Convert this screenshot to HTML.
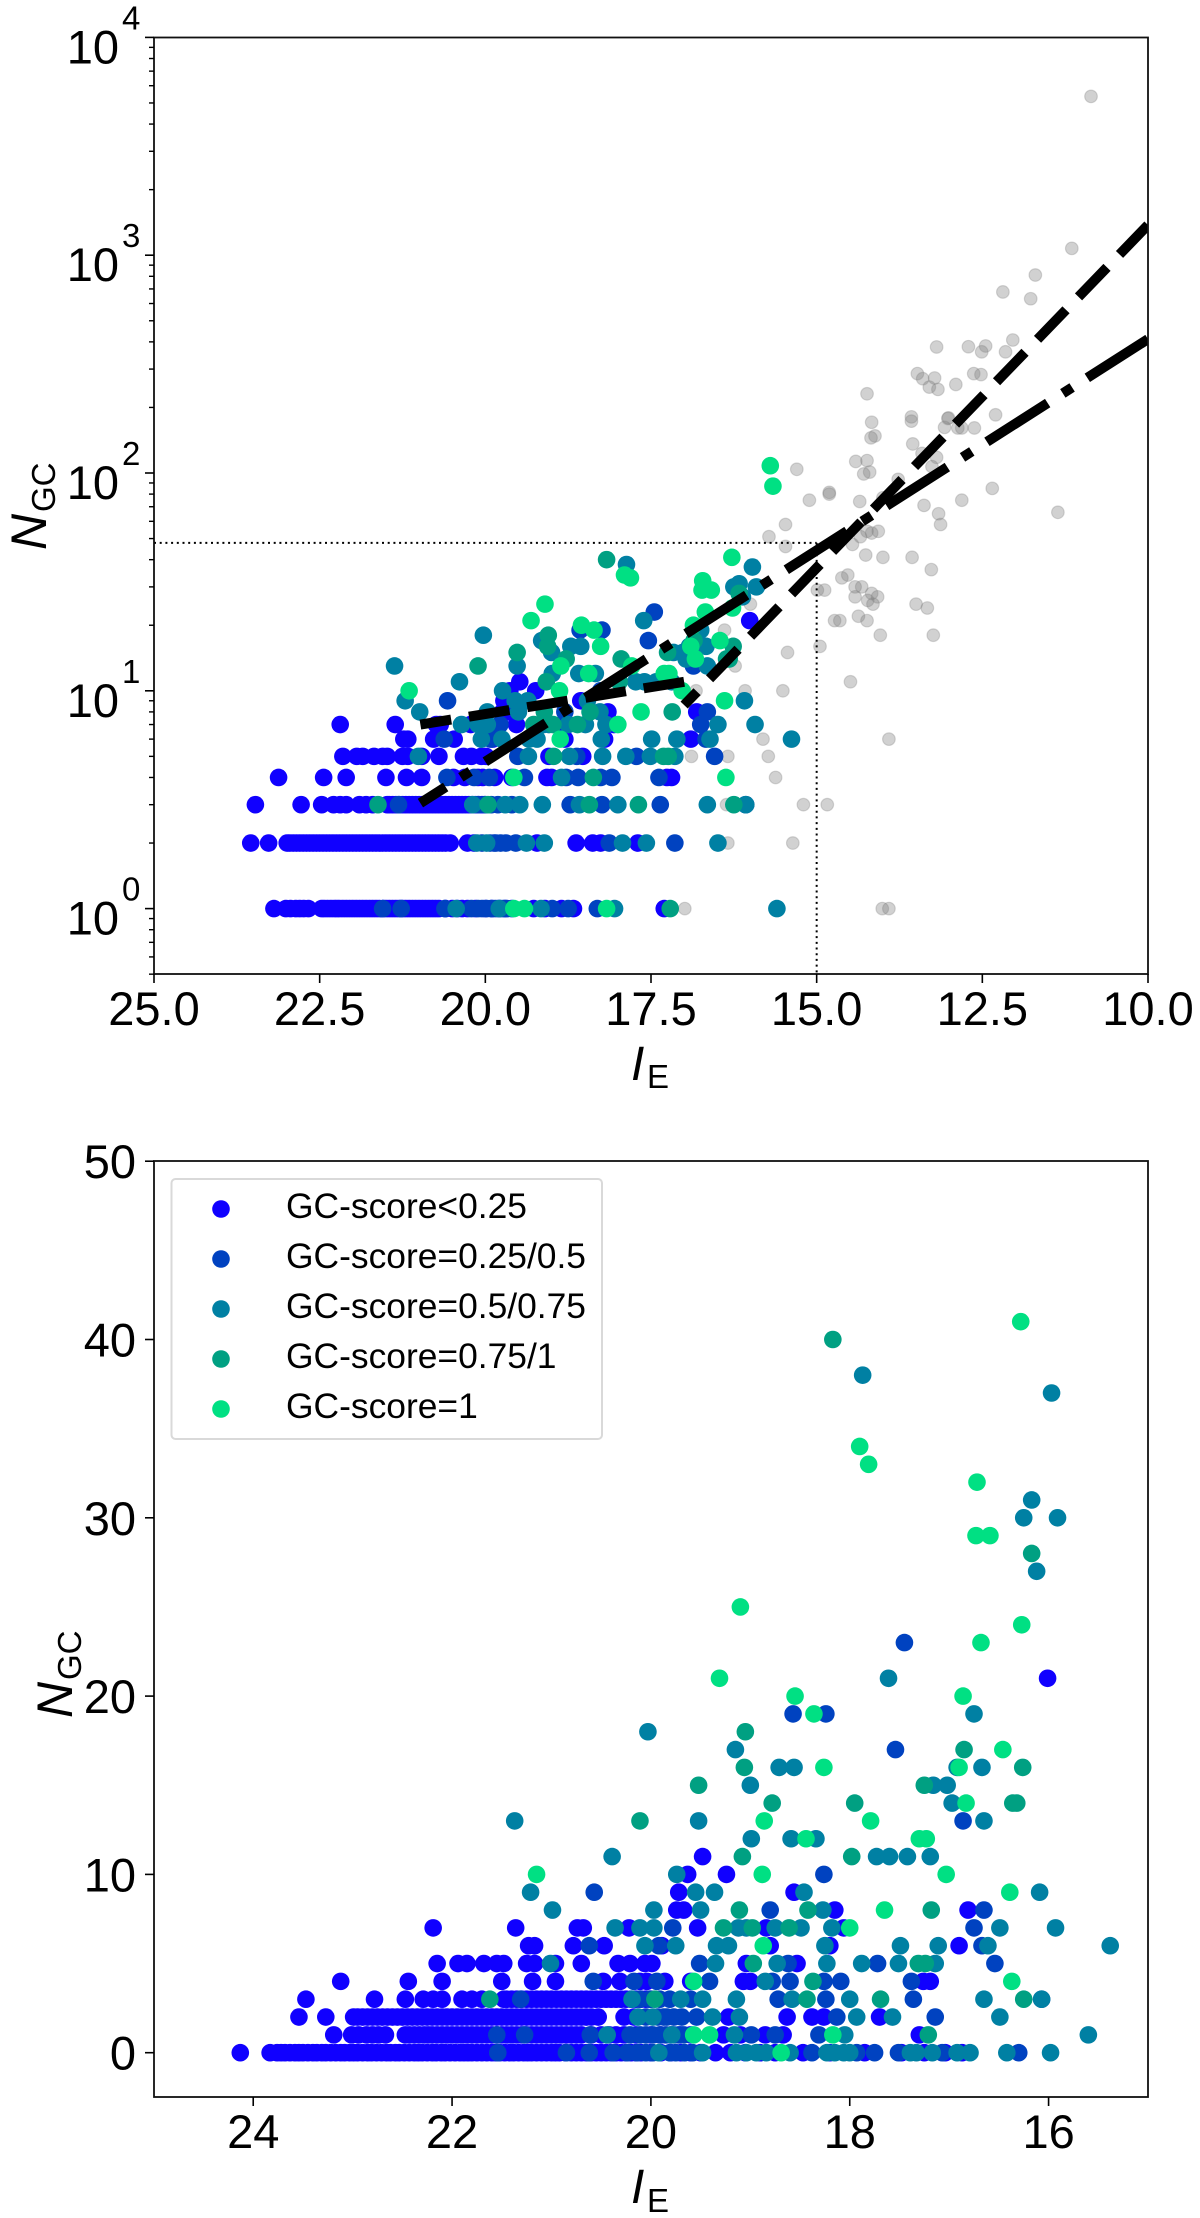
<!DOCTYPE html>
<html lang="en">
<head>
<meta charset="utf-8">
<title>NGC versus IE</title>
<style>
html,body{margin:0;padding:0;background:#fff;}
svg{display:block;font-family:"Liberation Sans",sans-serif;}
</style>
</head>
<body>
<svg id="figure" xmlns="http://www.w3.org/2000/svg" width="1200" height="2218" viewBox="0 0 1200 2218">
  <defs>
    <clipPath id="clip-top"><rect x="154" y="37.5" width="994" height="936.5"/></clipPath>
    <clipPath id="clip-bottom"><rect x="154" y="1161" width="994" height="936"/></clipPath>
  </defs>
  <g id="top-panel"></g>
  <g id="bottom-panel"></g>
</svg>
<script>
const NS = "http://www.w3.org/2000/svg";

/* ---- series: [magnitude, GC count] ---- */
const scoreLow = [
[24.13,0],[23.83,0],[23.76,0],[23.68,0],[23.58,0],[23.5,0],[23.4,0],[23.31,0],[23.22,0],[23.12,0],[23.03,0],[22.95,0],[22.85,0],[22.76,0],[22.66,0],[22.57,0],[22.48,0],[22.38,0],[22.3,0],[22.2,0],[22.11,0],[22.02,0],[21.92,0],[21.84,0],[21.75,0],[21.65,0],[21.56,0],[21.47,0],[21.38,0],[21.28,0],[21.2,0],[21.1,0],[21.0,0],[20.92,0],[20.8,0],[20.7,0],[20.6,0],[20.5,0],[20.4,0],[20.3,0],[20.2,0],[20.1,0],[20.0,0],[19.9,0],[19.8,0],[19.7,0],[19.6,0],[19.5,0],[19.35,0],[19.2,0],[19.05,0],[18.9,0],[18.75,0],[18.47,0],[18.2,0],[17.85,0],[17.48,0],[17.25,0],[17.04,0],[16.87,0],
[23.72,0],[23.63,0],[23.54,0],[23.45,0],[23.36,0],[23.27,0],[23.17,0],[23.08,0],[22.99,0],[22.9,0],[22.81,0],[22.71,0],[22.62,0],[22.53,0],[22.43,0],[22.34,0],[22.25,0],[22.16,0],[22.07,0],[21.97,0],[21.88,0],[21.8,0],[21.7,0],[21.6,0],[21.52,0],[21.42,0],[21.33,0],[21.24,0],[21.15,0],[21.05,0],[20.96,0],[20.86,0],[20.75,0],[20.65,0],[20.55,0],[20.45,0],[20.35,0],[20.25,0],[20.15,0],
[23.19,1],[23.01,1],[22.94,1],[22.86,1],[22.8,1],[22.74,1],[22.67,1],[22.47,1],[22.38,1],[22.28,1],[22.2,1],[22.1,1],[22.0,1],[21.9,1],[21.8,1],[21.7,1],[21.6,1],[21.5,1],[21.4,1],[21.3,1],[21.2,1],[21.1,1],[21.0,1],[20.9,1],[20.8,1],[20.7,1],[20.5,1],[20.35,1],[20.0,1],[19.8,1],[19.6,1],[19.27,1],[19.1,1],[18.85,1],[18.67,1],[17.3,1],
[22.43,1],[22.33,1],[22.24,1],[22.15,1],[22.05,1],[21.95,1],[21.85,1],[21.75,1],[21.65,1],[21.55,1],[21.45,1],[21.35,1],[21.25,1],[21.15,1],[21.05,1],[20.95,1],[20.85,1],[20.75,1],[20.6,1],[20.42,1],[20.27,1],[20.15,1],[19.9,1],[19.7,1],
[23.54,2],[23.27,2],[22.99,2],[22.9,2],[22.8,2],[22.7,2],[22.6,2],[22.5,2],[22.4,2],[22.3,2],[22.2,2],[22.1,2],[22.0,2],[21.9,2],[21.8,2],[21.7,2],[21.6,2],[21.5,2],[21.4,2],[21.3,2],[21.2,2],[21.1,2],[21.0,2],[20.9,2],[20.8,2],[20.7,2],[20.6,2],[20.53,2],[20.27,2],[20.17,2],[19.22,2],[18.63,2],[18.38,2],[18.26,2],[17.7,2],
[22.95,2],[22.85,2],[22.75,2],[22.65,2],[22.55,2],[22.45,2],[22.35,2],[22.25,2],[22.15,2],[22.05,2],[21.95,2],[21.85,2],[21.75,2],[21.65,2],[21.55,2],[21.45,2],[21.35,2],[21.25,2],[21.15,2],[21.05,2],[20.95,2],[20.85,2],[20.75,2],[20.65,2],
[23.47,3],[22.78,3],[22.47,3],[22.29,3],[22.19,3],[22.1,3],[21.9,3],[21.8,3],[21.7,3],[21.48,3],[21.4,3],[21.3,3],[21.2,3],[21.1,3],[21.0,3],[20.9,3],[20.8,3],[20.7,3],[20.6,3],[20.5,3],[20.4,3],[20.3,3],[20.2,3],[20.1,3],[20.0,3],
[21.45,3],[21.35,3],[21.25,3],[21.15,3],[21.05,3],[20.95,3],[20.85,3],[20.75,3],[20.65,3],[20.55,3],[20.45,3],[20.35,3],[20.25,3],[20.15,3],[20.05,3],
[23.12,4],[22.44,4],[22.1,4],[21.5,4],[21.19,4],[20.96,4],[20.48,4],[20.31,4],[20.11,4],[20.04,4],[19.86,4],[19.6,4],[19.07,4],[19.0,4],[17.26,4],[17.19,4],
[22.15,5],[21.94,5],[21.85,5],[21.68,5],[21.55,5],[21.48,5],[21.25,5],[21.17,5],[20.96,5],[20.7,5],[20.33,5],[20.21,5],[20.06,5],[19.99,5],[19.04,5],[18.53,5],
[21.23,6],[21.17,6],[20.78,6],[20.47,6],[19.89,6],[18.8,6],[18.2,6],[16.9,6],
[22.19,7],[21.36,7],[20.74,7],[20.68,7],[20.22,7],[19.53,7],[18.84,7],[18.06,7],
[19.74,8],[19.67,8],[18.15,8],[16.81,8],
[19.72,9],[18.56,9],
[19.63,10],[19.24,10],
[19.48,11],
[16.01,21]
];
const scoreQuarter = [
[21.54,0],[20.85,0],[20.62,0],[20.38,0],[20.24,0],[20.14,0],[20.05,0],[19.98,0],[19.81,0],[19.75,0],[19.66,0],[19.58,0],[18.38,0],[17.93,0],[17.75,0],[17.51,0],[17.07,0],[16.3,0],
[21.55,1],[21.27,1],[20.61,1],[20.21,1],[20.11,1],[20.05,1],[19.98,1],[19.91,1],[19.85,1],[19.77,1],[19.72,1],[19.67,1],[18.99,1],[18.75,1],[18.31,1],
[20.05,2],[19.93,2],[19.87,2],[19.77,2],[19.69,2],[19.84,2],[19.54,2],[18.13,2],[17.14,2],
[21.31,3],[20.11,3],[20.01,3],[19.91,3],[19.81,3],[19.6,3],[18.72,3],[18.24,3],[17.36,3],[16.07,3],
[20.58,4],[20.17,4],[19.94,4],[19.41,4],[18.78,4],[18.6,4],[18.26,4],[18.09,4],[17.38,4],
[19.51,5],[18.62,5],[17.72,5],[16.54,5],
[20.62,6],[19.92,6],[16.67,6],
[19.78,7],[16.75,7],
[18.8,8],[16.65,8],
[20.57,9],
[18.26,10],
[16.86,13],
[17.54,17],
[18.57,19],[18.24,19],
[17.45,23]
];
const scoreHalf = [
[19.92,0],[19.48,0],[19.14,0],[19.04,0],[18.94,0],[18.84,0],[18.6,0],[18.23,0],[18.15,0],[18.06,0],[18.0,0],[17.39,0],[17.33,0],[17.17,0],[16.92,0],[16.79,0],[16.42,0],[15.98,0],
[20.44,1],[19.79,1],[19.16,1],[18.05,1],[15.6,1],
[20.13,2],[19.98,2],[19.38,2],[19.11,2],[17.93,2],[17.57,2],[16.49,2],
[20.19,3],[19.7,3],[19.48,3],[19.14,3],[18.58,3],[18.0,3],[16.65,3],[16.07,3],
[18.85,4],
[21.01,5],[19.35,5],[18.73,5],[18.23,5],[17.88,5],[17.51,5],[17.14,5],
[20.06,6],[19.75,6],[19.34,6],[19.22,6],[18.25,6],[17.49,6],[17.11,6],[16.61,6],[15.38,6],
[20.36,7],[20.11,7],[19.97,7],[19.12,7],[19.04,7],[18.75,7],[18.49,7],[18.18,7],[16.49,7],[15.93,7],
[20.99,8],[19.97,8],[19.5,8],[18.27,8],
[21.21,9],[19.55,9],[19.36,9],[18.46,9],[16.09,9],
[19.74,10],
[20.39,11],[17.73,11],[17.6,11],[17.42,11],[17.19,11],
[18.99,12],[18.59,12],[18.34,12],
[21.37,13],[19.52,13],[16.65,13],
[16.97,14],
[19.0,15],[17.16,15],[17.02,15],
[18.71,16],[18.56,16],[16.92,16],[16.67,16],
[19.15,17],
[20.03,18],
[16.75,19],
[17.61,21],
[16.12,27],
[16.25,30],[15.91,30],[16.17,31],
[15.97,37],[17.87,38]
];
const scoreThreeQuarter = [
[17.21,1],
[21.62,3],[19.96,3],[18.43,3],[17.69,3],[16.25,3],
[18.37,4],
[18.97,5],[17.31,5],[17.24,5],
[19.27,7],[18.98,7],[18.61,7],
[19.11,8],[18.42,8],[17.18,8],
[20.11,13],
[18.78,14],[17.95,14],[16.36,14],[16.32,14],
[19.52,15],[17.25,15],
[19.06,16],[16.26,16],
[16.85,17],
[19.05,18],
[19.08,11],[17.98,11],
[16.17,28],
[18.17,40]
];
const scoreOne = [
[18.69,0],
[19.57,1],[19.41,1],[18.17,1],
[19.57,4],[16.37,4],
[18.87,6],
[18.0,7],
[17.65,8],
[16.39,9],
[21.15,10],[18.88,10],[17.03,10],
[18.44,12],[17.3,12],[17.23,12],
[18.86,13],[17.79,13],
[16.83,14],
[18.26,16],[16.9,16],
[16.46,17],
[18.36,19],
[18.55,20],[16.86,20],
[19.31,21],
[16.68,23],
[16.27,24],
[19.1,25],
[16.73,29],[16.59,29],
[16.72,32],[17.81,33],[17.9,34],
[16.28,41],
[15.7,108],[15.66,87]
];
const backgroundGalaxies = [
[10.86,5360],[11.15,1075],[11.7,811],[12.19,678],[11.77,631],[12.04,408],[12.45,383],[12.71,380],[13.19,379],[12.51,360],[12.15,360],[13.48,286],[13.4,271],[13.22,273],[13.3,248],[13.17,242],[12.9,255],[12.63,286],[12.52,283],[14.24,231],[14.17,171],[13.57,181],[13.57,173],[13.01,179],[13.02,178],[12.3,185],[13.07,162],[12.87,161],[12.81,161],[12.62,161],[14.12,148],[14.18,145],[13.55,136],[13.41,123],[13.19,118],[13.26,107],[14.41,113],[14.24,114],[14.2,101],[14.29,99],[15.3,104],[13.77,93.5],[14.81,81.5],[14.81,80],[15.11,75],[14.35,74],[13.38,71],[12.81,75],[12.35,85],[13.16,65],[13.13,58],[11.36,66],[15.47,58],[15.72,51],[14.34,51],[14.07,54],[14.17,53],[14.24,54],[14.0,77],
[15.47,46],[14.46,47],[14.26,42],[14.0,41],[13.56,41],[13.27,36],[14.62,33],[14.53,34],[14.42,30],[14.32,30],[14.99,29],[14.88,29],[14.17,28],[14.08,27],[14.42,27],[14.23,26],[14.15,25],[13.5,25],[13.33,24],[14.37,22],[14.73,21],[14.65,21],[14.24,21],[14.04,18],[13.24,18],[14.95,16],[15.44,15],[16.0,25],[16.39,19],[16.23,13],[14.49,11],[16.82,10],[16.08,10],[15.51,10],[15.81,6],[13.91,6],[16.89,5],[16.34,5],[15.73,5],[15.62,4],[16.36,3],[15.2,3],[14.84,3],[16.34,2],[15.36,2],[16.99,1],[14.01,1],[13.91,1]
];

/* ---- fit lines (drawn bright end first) ---- */
const dashDotMag = [10, 20.98];
const dashDotCount = [412, 3.05];
const steepDashMag = [10, 17];
const steepDashCount = [1377, 8.6];
const flatDashMag = [17, 20.98];
const flatDashCount = [11, 7];

/* ---- reference cut ---- */
const cutMag = [15];
const cutCount = [47.8];

/* ---- axis ticks ---- */
const topXTicks = [25, 22.5, 20, 17.5, 15, 12.5, 10];
const topYExponents = [0, 1, 2, 3, 4];
const minorMultiples = [2, 3, 4, 5, 6, 7, 8, 9];
const bottomXTicks = [24, 22, 20, 18, 16];
const bottomYTicks = [0, 10, 20, 30, 40, 50];

/* ---- legend ---- */
const legendLabels = ["GC-score<0.25", "GC-score=0.25/0.5", "GC-score=0.5/0.75", "GC-score=0.75/1", "GC-score=1"];
const legendColors = ["#1000ff", "#0042c0", "#0080a3", "#00a082", "#00e083"];

const seriesList = [scoreLow, scoreQuarter, scoreHalf, scoreThreeQuarter, scoreOne];
const seriesKeys = ["score-low", "score-quarter", "score-half", "score-three-quarter", "score-one"];

/* ---- axis functions ---- */
const topX = m => 154 + (25 - m) / 15 * 994;
const topY = n => 473 - (Math.log10(n) - 2) * 217.8;
const bottomX = m => 153.8 + (25 - m) * 99.42;
const bottomY = n => 2052.7 - n * 17.83;

function make(tag, parent, attrs, text) {
  const el = document.createElementNS(NS, tag);
  for (const k in attrs) el.setAttribute(k, attrs[k]);
  if (text !== undefined) el.textContent = text;
  parent.appendChild(el);
  return el;
}

function tick(parent, x1, y1, x2, y2, width, name) {
  const el = make("line", parent, {x1, y1, x2, y2, stroke: "#000", "stroke-width": width});
  
  
}

function label(parent, x, y, size, anchor, text, name, extra) {
  const el = make("text", parent, Object.assign({x, y, "font-size": size, "text-anchor": anchor, fill: "#000"}, extra || {}), text);
  
  
  return el;
}

function frame(parent, left, right, top, bottom) {
  const el = make("rect", parent, {x: left, y: top, width: right - left, height: bottom - top, fill: "none", stroke: "#111", "stroke-width": 1.8});
  
  
}

function drawFit(parent, xFn, yFn, mags, counts, dash, name) {
  const el = make("line", parent, {
    x1: xFn(mags[0]), y1: yFn(counts[0]), x2: xFn(mags[1]), y2: yFn(counts[1]),
    stroke: "#000", "stroke-width": 10, "stroke-dasharray": dash
  });
  
  
}

/* ---- top panel ---- */
const topPanel = document.getElementById("top-panel");
const topPlot = make("g", topPanel, {"clip-path": "url(#clip-top)"});



backgroundGalaxies.forEach(p => {
  const c = make("circle", topPlot, {cx: topX(p[0]), cy: topY(p[1]), r: 6.3, fill: "#808080", "fill-opacity": 0.36, stroke: "#808080", "stroke-opacity": 0.3, "stroke-width": 1.2});
  
  
});

const cutH = make("line", topPlot, {x1: 154, y1: topY(cutCount[0]), x2: topX(cutMag[0]), y2: topY(cutCount[0]), stroke: "#000", "stroke-width": 2, "stroke-dasharray": "2 3.7"});


const cutV = make("line", topPlot, {x1: topX(cutMag[0]), y1: topY(cutCount[0]), x2: topX(cutMag[0]), y2: 974, stroke: "#000", "stroke-width": 2, "stroke-dasharray": "2 3.7"});



seriesList.forEach((series, i) => {
  series.forEach(p => {
    if (p[1] <= 0) return;
    const c = make("circle", topPlot, {cx: topX(p[0]), cy: topY(p[1]), r: 8.8, fill: legendColors[i]});
    
    
  });
});

drawFit(topPlot, topX, topY, steepDashMag, steepDashCount, "41 18", "steep-dashed-fit");
drawFit(topPlot, topX, topY, flatDashMag, flatDashCount, "41 18", "flat-dashed-fit");
drawFit(topPlot, topX, topY, dashDotMag, dashDotCount, "72 18 11 18", "dash-dot-fit");

frame(topPanel, 154, 1148, 37.5, 974);

topXTicks.forEach(v => {
  tick(topPanel, topX(v), 974, topX(v), 983, 1.6, "x-tick");
  label(topPanel, topX(v), 1025, 47, "middle", v.toFixed(1), "x-tick-label");
});
topYExponents.forEach(e => {
  const y = topY(Math.pow(10, e));
  tick(topPanel, 145, y, 154, y, 1.6, "y-tick");
  label(topPanel, 119, y + 26, 47, "end", "10", "y-tick-label");
  label(topPanel, 122, y - 8, 33, "start", String(e), "y-tick-exponent");
  if (e < 4) {
    minorMultiples.forEach(m => {
      const yy = topY(m * Math.pow(10, e));
      tick(topPanel, 149, yy, 154, yy, 1.4, "y-minor-tick");
    });
  }
});
[0.5, 0.6, 0.7, 0.8, 0.9].forEach(v => {
  const yy = topY(v);
  tick(topPanel, 149, yy, 154, yy, 1.4, "y-minor-tick");
});

const topYLabel = make("g", topPanel, {transform: "translate(46,550) rotate(-90)"});


label(topYLabel, 0, 0, 50, "start", "N", "y-axis-title-n", {"font-style": "italic"});
label(topYLabel, 38, 9, 33, "start", "GC", "y-axis-title-gc");

const topXLabel = make("g", topPanel, {});


label(topXLabel, 631, 1080, 48, "start", "I", "x-axis-title-i", {"font-style": "italic"});
label(topXLabel, 647, 1088, 33, "start", "E", "x-axis-title-e");

/* ---- bottom panel ---- */
const bottomPanel = document.getElementById("bottom-panel");
const bottomPlot = make("g", bottomPanel, {"clip-path": "url(#clip-bottom)"});



seriesList.forEach((series, i) => {
  series.forEach(p => {
    const c = make("circle", bottomPlot, {cx: bottomX(p[0]), cy: bottomY(p[1]), r: 8.8, fill: legendColors[i]});
    
    
  });
});

frame(bottomPanel, 154, 1148, 1161, 2097);

bottomXTicks.forEach(v => {
  tick(bottomPanel, bottomX(v), 2097, bottomX(v), 2106, 1.6, "x-tick");
  label(bottomPanel, bottomX(v), 2148, 47, "middle", String(v), "x-tick-label");
});
bottomYTicks.forEach(v => {
  tick(bottomPanel, 145, bottomY(v), 154, bottomY(v), 1.6, "y-tick");
  label(bottomPanel, 136, bottomY(v) + 17, 47, "end", String(v), "y-tick-label");
});

const bottomYLabel = make("g", bottomPanel, {transform: "translate(72,1718) rotate(-90)"});


label(bottomYLabel, 0, 0, 50, "start", "N", "y-axis-title-n", {"font-style": "italic"});
label(bottomYLabel, 38, 9, 33, "start", "GC", "y-axis-title-gc");

const bottomXLabel = make("g", bottomPanel, {});


label(bottomXLabel, 631, 2203, 48, "start", "I", "x-axis-title-i", {"font-style": "italic"});
label(bottomXLabel, 647, 2212, 33, "start", "E", "x-axis-title-e");

/* ---- legend ---- */
const legend = make("g", bottomPanel, {});


const legendBox = make("rect", legend, {x: 171.5, y: 1179, width: 430.5, height: 260, rx: 4, fill: "#fff", stroke: "#d9d9d9", "stroke-width": 2});


legendLabels.forEach((t, i) => {
  const y = 1209 + i * 50;
  const c = make("circle", legend, {cx: 221, cy: y, r: 8.8, fill: legendColors[i]});
  
  
  label(legend, 286, y + 9, 35.4, "start", t, "legend-entry");
});
</script>
</body>
</html>
